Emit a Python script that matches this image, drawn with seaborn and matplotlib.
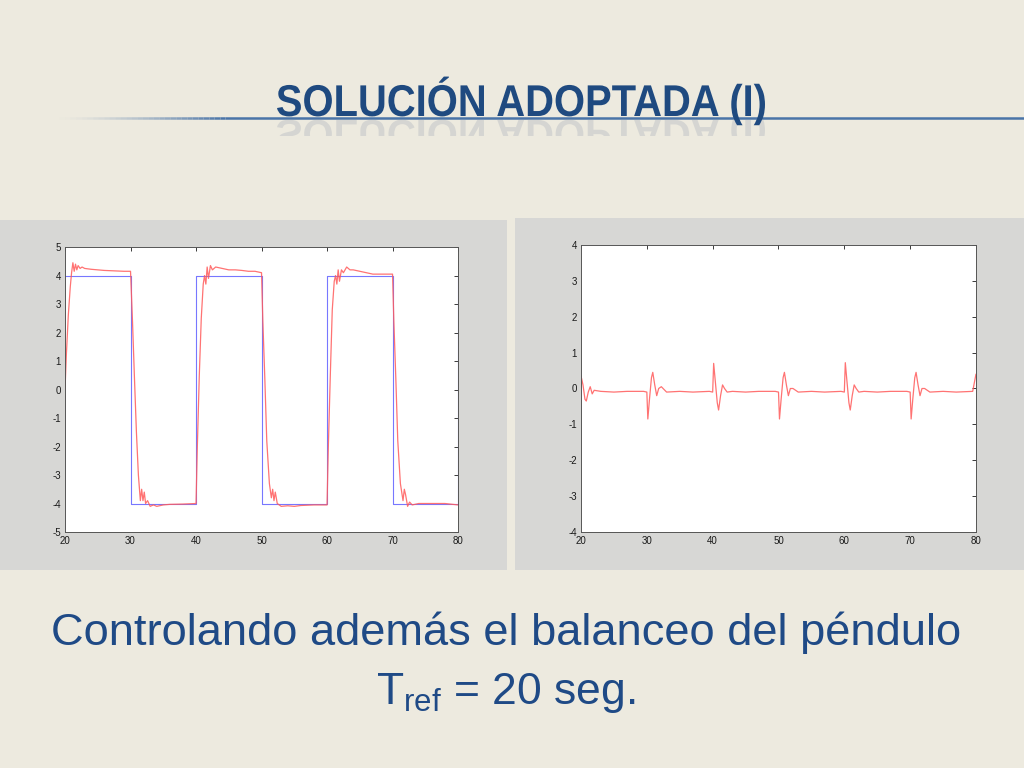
import matplotlib
matplotlib.use("Agg")
import matplotlib.pyplot as plt
import seaborn as sns
import pandas as pd
from matplotlib.patches import Rectangle, PathPatch
from matplotlib.lines import Line2D
from matplotlib.textpath import TextPath
from matplotlib.font_manager import FontProperties
from matplotlib.transforms import Affine2D, Bbox

# Datos
# Referencia (cuadrada) del carro
ref_t = [20, 30, 30, 40, 40, 50, 50, 60, 60, 70, 70, 80, 80]
ref_y = [4, 4, -4, -4, 4, 4, -4, -4, 4, 4, -4, -4, 4]

# Posicion del carro (respuesta)
pos_t = [20.0, 20.2, 20.5, 20.8, 21.0, 21.2, 21.4, 21.6, 21.8, 22.0, 22.3, 22.6, 23.0,
         24.0, 25.0, 26.0, 27.0, 28.0, 29.0, 30.0,
         30.3, 30.6, 30.9, 31.2, 31.5, 31.7, 31.9, 32.1, 32.3, 32.6, 33.0, 33.5, 34.0,
         35.0, 36.0, 38.0, 40.0,
         40.2, 40.5, 40.8, 41.1, 41.3, 41.5, 41.7, 41.9, 42.2, 42.5, 43.0, 44.0,
         45.0, 46.0, 47.0, 48.0, 49.0, 50.0,
         50.2, 50.5, 50.8, 51.2, 51.5, 51.7, 51.9, 52.1, 52.4, 53.0, 54.0, 55.0,
         56.0, 58.0, 60.0,
         60.2, 60.5, 60.8, 61.1, 61.3, 61.5, 61.7, 61.9, 62.2, 62.5, 63.0, 63.5,
         64.0, 65.0, 66.0, 67.0, 68.0, 69.0, 70.0,
         70.2, 70.5, 70.8, 71.2, 71.6, 71.8, 72.0, 72.3, 72.6, 73.0, 74.0, 76.0,
         78.0, 80.0]
pos_y = [0.0, 1.2, 2.6, 3.6, 4.1, 4.45, 4.15, 4.4, 4.2, 4.35, 4.25, 4.3, 4.25,
         4.22, 4.2, 4.18, 4.17, 4.16, 4.15, 4.15,
         2.4, 0.4, -1.5, -3.0, -3.9, -3.5, -3.9, -3.6, -4.0, -3.9, -4.1, -4.05, -4.1,
         -4.05, -4.03, -4.02, -4.0,
         -2.0, 0.5, 2.5, 3.7, 4.0, 3.7, 4.3, 3.9, 4.35, 4.2, 4.3, 4.25,
         4.2, 4.2, 4.18, 4.15, 4.15, 4.1,
         2.4, 0.4, -1.8, -3.3, -3.8, -3.5, -3.9, -3.6, -4.0, -4.1, -4.08, -4.1,
         -4.07, -4.05, -4.05,
         -2.0, 0.5, 2.8, 3.8, 4.0, 3.7, 4.2, 3.8, 4.2, 4.1, 4.3, 4.2,
         4.2, 4.15, 4.1, 4.05, 4.05, 4.05, 4.05,
         2.4, 0.4, -1.8, -3.3, -3.9, -3.5, -3.7, -4.1, -3.95, -4.05, -4.0, -4.0,
         -4.0, -4.05]

# Angulo del pendulo
ang_t = [20.0, 20.3, 20.6, 20.8, 21.1, 21.4, 21.7, 22.0, 23.0, 25.0, 27.0, 29.5,
         30.0, 30.15, 30.4, 30.7, 30.9, 31.2, 31.5, 31.8, 32.2, 33.0, 35.0, 37.0, 39.5,
         40.0, 40.15, 40.4, 40.7, 40.9, 41.2, 41.5, 41.8, 42.2, 43.0, 45.0, 47.0, 49.5,
         50.0, 50.15, 50.4, 50.7, 50.9, 51.2, 51.5, 51.8, 52.2, 53.0, 55.0, 57.0, 59.5,
         60.0, 60.15, 60.4, 60.7, 60.9, 61.2, 61.5, 61.8, 62.2, 63.0, 65.0, 67.0, 69.5,
         70.0, 70.15, 70.4, 70.7, 70.9, 71.2, 71.5, 71.8, 72.2, 73.0, 75.0, 77.0, 79.5,
         80.0]
ang_y = [0.35, 0.1, -0.3, -0.35, -0.1, 0.05, -0.15, -0.05, -0.08, -0.1, -0.08, -0.08,
         -0.1, -0.85, -0.3, 0.3, 0.45, 0.1, -0.2, 0.0, 0.05, -0.1, -0.08, -0.1, -0.08,
         -0.1, 0.7, 0.2, -0.4, -0.6, -0.2, 0.1, 0.0, -0.1, -0.08, -0.1, -0.08, -0.08,
         -0.1, -0.85, -0.3, 0.3, 0.45, 0.1, -0.2, 0.0, 0.0, -0.1, -0.08, -0.1, -0.08,
         -0.1, 0.72, 0.2, -0.4, -0.6, -0.2, 0.1, 0.0, -0.1, -0.08, -0.1, -0.08, -0.08,
         -0.1, -0.85, -0.3, 0.3, 0.45, 0.1, -0.2, 0.0, 0.0, -0.1, -0.08, -0.1, -0.08,
         0.4]

x_ticks = [20, 30, 40, 50, 60, 70, 80]
y_ticks_pos = [-5, -4, -3, -2, -1, 0, 1, 2, 3, 4, 5]
y_ticks_ang = [-4, -3, -2, -1, 0, 1, 2, 3, 4]

# Estilo
sns.set_style("white")
plt.rcParams['font.family'] = ['Liberation Sans', 'DejaVu Sans']
plt.rcParams['mathtext.fontset'] = 'custom'
plt.rcParams['mathtext.rm'] = 'Liberation Sans'
plt.rcParams['axes.unicode_minus'] = False

BG = '#EDEADF'
PANEL = '#D7D7D5'
BLUE_TXT = '#1F4A86'
TITLE_C = '#1F4A80'
RED = '#FF5A5A'
BLUE = '#7777FF'
W, H = 1024, 768

fig = plt.figure(figsize=(10.24, 7.68), dpi=100, facecolor=BG)

# Paneles grises
fig.patches.append(Rectangle((0.0, 0.2578), 0.495, 0.4557, transform=fig.transFigure,
                             facecolor=PANEL, edgecolor='none', zorder=-10))
fig.patches.append(Rectangle((0.503, 0.2578), 0.497, 0.4583, transform=fig.transFigure,
                             facecolor=PANEL, edgecolor='none', zorder=-10))

ax1 = fig.add_axes([0.0635, 0.3073, 0.3838, 0.371])
ax2 = fig.add_axes([0.5674, 0.3073, 0.3857, 0.3737])

df_ref = pd.DataFrame({'t': ref_t, 'y': ref_y})
df_pos = pd.DataFrame({'t': pos_t, 'y': pos_y})
df_ang = pd.DataFrame({'t': ang_t, 'y': ang_y})

sns.lineplot(data=df_ref, x='t', y='y', ax=ax1, color=BLUE, linewidth=0.8,
             sort=False, estimator=None)
sns.lineplot(data=df_pos, x='t', y='y', ax=ax1, color=RED, linewidth=0.9,
             sort=False, estimator=None, alpha=0.85)
sns.lineplot(data=df_ang, x='t', y='y', ax=ax2, color=RED, linewidth=0.9,
             sort=False, estimator=None, alpha=0.85)

for ax, yt in ((ax1, y_ticks_pos), (ax2, y_ticks_ang)):
    ax.set_facecolor('white')
    ax.set_xlim(20, 80)
    ax.set_ylim(yt[0], yt[-1])
    ax.set_xticks(x_ticks)
    ax.set_yticks(yt)
    ax.set_xlabel('')
    ax.set_ylabel('')
    ax.tick_params(direction='in', length=3, width=0.6, top=True, right=True,
                   labelsize=7, pad=3, colors='#1A1A1A')
    for s in ax.spines.values():
        s.set_color('#555555')
        s.set_linewidth(0.7)

# Linea bajo el titulo, con degradado a la izquierda
y_line = 1 - 118 / H
fig.lines.append(Line2D([0.22, 1.0], [y_line, y_line], transform=fig.transFigure,
                        color='#4A74A8', linewidth=1.8, solid_capstyle='butt'))
n_seg = 30
x0, x1 = 0.058, 0.22
for i in range(n_seg):
    xa = x0 + (x1 - x0) * i / n_seg
    xb = x0 + (x1 - x0) * (i + 1) / n_seg
    fig.lines.append(Line2D([xa, xb], [y_line, y_line], transform=fig.transFigure,
                            color='#4A74A8', linewidth=1.8, solid_capstyle='butt',
                            alpha=((i + 1) / n_seg) ** 1.5))

# Titulo (condensado) con reflejo
title = 'SOLUCIÓN ADOPTADA (I)'
tp = TextPath((0, 0), title, size=44.5,
              prop=FontProperties(family='Liberation Sans', weight='bold'))
ext = tp.get_extents()
sx = 488 / ext.width
base_px = H - 116
t_main = Affine2D().translate(-ext.x0, 0).scale(sx, 1).translate(277, base_px)
fig.add_artist(PathPatch(tp, transform=t_main, facecolor=TITLE_C, edgecolor='none',
                         zorder=5))
t_refl = Affine2D().translate(-ext.x0, 0).scale(sx, -0.9).translate(277, base_px - 4)
refl = PathPatch(tp, transform=t_refl, facecolor='#98A2B2', edgecolor='none',
                 alpha=0.28, zorder=4)
fig.add_artist(refl)
refl.set_clip_box(Bbox([[0, H - 136], [W, base_px - 3]]))

# Texto inferior
fig.text(0.494, 0.176, 'Controlando además el balanceo del péndulo', ha='center',
         va='center', fontsize=32.6, color=BLUE_TXT)
fig.text(0.494, 0.098, r'T$_{\mathrm{ref}}$ = 20 seg.', ha='center', va='center',
         fontsize=32, color=BLUE_TXT)

fig.savefig('out.png', dpi=100, facecolor=BG)
